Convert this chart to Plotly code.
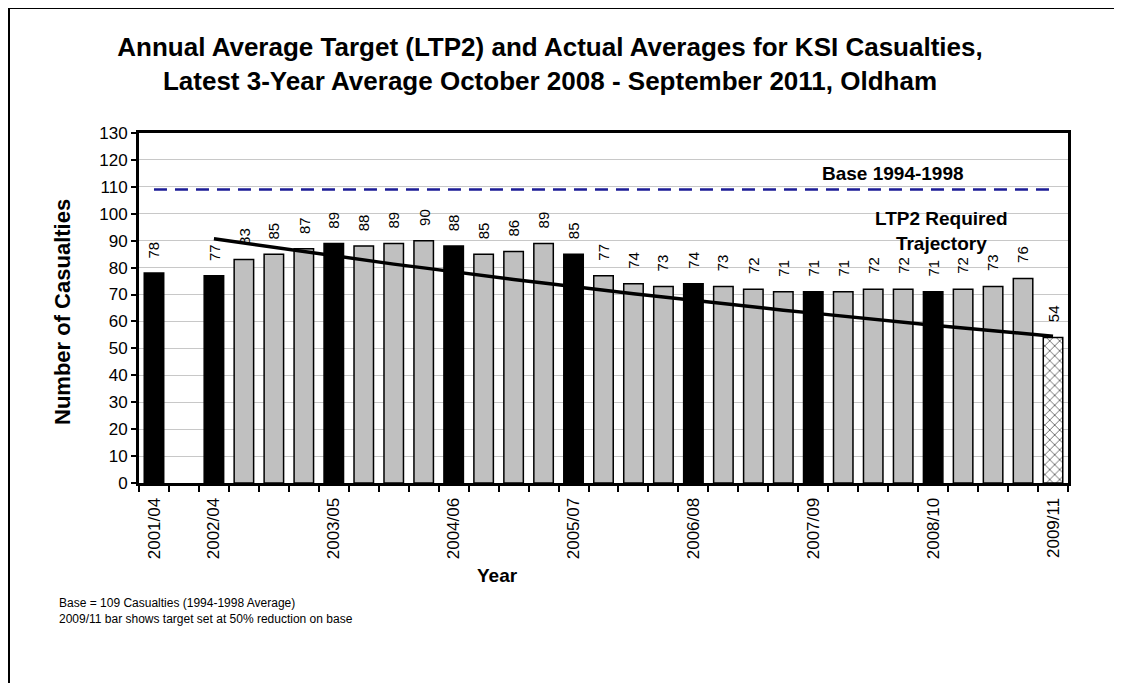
import plotly.graph_objects as go

# periods (blank = unlabelled rolling 3-year window)
periods = ["2001/04", "", "2002/04", "", "", "", "2003/05", "", "", "", "2004/06",
           "", "", "", "2005/07", "", "", "", "2006/08", "", "", "", "2007/09",
           "", "", "", "2008/10", "", "", "", "2009/11"]
actual = [78, None, 77, 83, 85, 87, 89, 88, 89, 90, 88, 85, 86, 89, 85, 77,
          74, 73, 74, 73, 72, 71, 71, 71, 72, 72, 71, 72, 73, 76]
target_2009_11 = 54
base_value = 109
trajectory = [90.7, 89.1, 87.5, 85.9, 84.3, 82.8, 81.3, 79.9, 78.4, 77.0,
              75.6, 74.3, 72.9, 71.6, 70.3, 69.1, 67.8, 66.6, 65.4, 64.2,
              63.1, 61.9, 60.8, 59.7, 58.6, 57.6, 56.5, 55.5, 54.5]

FONT = "Arial, Liberation Sans, sans-serif"
n = len(periods)
xs = list(range(n))

# page body has an 8px margin, so the figure is a bit smaller than the window
W, H = 1114, 683 - 8


def px(x):  # reference pixel -> paper x
    return (x - 139) / 929


def py(y):  # reference pixel -> paper y
    return (483 - y) / 350


bar_x = xs[:len(actual)]
bar_colors = ["black" if periods[i] else "#c0c0c0" for i in bar_x]

fig = go.Figure()

fig.add_trace(go.Bar(
    x=bar_x, y=actual, width=0.65,
    marker=dict(color=bar_colors, line=dict(color="black", width=1.5)),
    showlegend=False,
))

fig.add_trace(go.Bar(
    x=[xs[-1]], y=[target_2009_11], width=0.65,
    marker=dict(color="white", line=dict(color="black", width=1.5),
                pattern=dict(shape="x", fgcolor="black", bgcolor="white",
                             size=7, solidity=0.15, fillmode="replace")),
    showlegend=False,
))

# base 1994-1998 average
fig.add_trace(go.Scatter(
    x=[xs[0], xs[-1]], y=[base_value, base_value], mode="lines",
    line=dict(color="#1c1c96", width=2.5, dash="13px,8px"),
    showlegend=False,
))

# LTP2 required trajectory
fig.add_trace(go.Scatter(
    x=xs[2:], y=trajectory, mode="lines",
    line=dict(color="black", width=3.5),
    showlegend=False,
))

# rotated value labels above the bars
labels = []
for x, v in list(zip(bar_x, actual)) + [(xs[-1], target_2009_11)]:
    if v is None:
        continue
    labels.append(dict(x=x, y=v, xref="x", yref="y", text=str(v), textangle=-90,
                       xanchor="center", yanchor="bottom", yshift=13,
                       showarrow=False,
                       font=dict(family=FONT, size=15, color="black")))

tick_pos = [i for i, p in enumerate(periods) if p]
tick_txt = [p for p in periods if p]

fig.update_layout(
    width=W, height=H,
    paper_bgcolor="white", plot_bgcolor="white",
    margin=dict(l=131, r=W - 1060, t=125, b=H - 475),
    barmode="overlay",
    font=dict(family=FONT, color="black"),
    title=dict(
        text="<b>Annual Average Target (LTP2) and Actual Averages for KSI Casualties,<br>"
             "Latest 3-Year Average October 2008 - September 2011, Oldham</b>",
        x=(550 - 8) / W, xanchor="center", y=1 - (56 - 8) / H, yanchor="middle",
        font=dict(family=FONT, size=26, color="black"),
    ),
    xaxis=dict(
        range=[-0.5, n - 0.5],
        tickmode="array", tickvals=tick_pos, ticktext=tick_txt,
        tickangle=-90, ticks="outside", ticklen=5, tickcolor="rgba(0,0,0,0)",
        tickfont=dict(family=FONT, size=17, color="black"),
        showgrid=False, zeroline=False,
        showline=True, linecolor="black", linewidth=3, mirror=True,
        minor=dict(tickmode="array", tickvals=[i - 0.5 for i in range(n + 1)],
                   ticks="outside", ticklen=6, tickwidth=2, tickcolor="black",
                   showgrid=False),
    ),
    yaxis=dict(
        range=[0, 130], dtick=10, tick0=0,
        ticks="outside", ticklen=5, tickwidth=2, tickcolor="black",
        tickfont=dict(family=FONT, size=17, color="black"),
        showgrid=True, gridcolor="#c8c8c8", gridwidth=1, zeroline=False,
        showline=True, linecolor="black", linewidth=3, mirror=True,
    ),
    annotations=labels + [
        dict(text="<b>Number of Casualties</b>", xref="paper", yref="paper",
             x=px(62), y=py(312), textangle=-90, xanchor="center", yanchor="middle",
             showarrow=False, font=dict(family=FONT, size=22, color="black")),
        dict(text="<b>Year</b>", xref="paper", yref="paper",
             x=px(497), y=py(575), xanchor="center", yanchor="middle",
             showarrow=False, font=dict(family=FONT, size=19, color="black")),
        dict(text="<b>Base 1994-1998</b>", xref="paper", yref="paper",
             x=px(893), y=py(173), xanchor="center", yanchor="middle",
             showarrow=False, font=dict(family=FONT, size=19, color="black")),
        dict(text="<b>LTP2 Required<br>Trajectory</b>", xref="paper", yref="paper",
             x=px(941), y=py(231), xanchor="center", yanchor="middle", align="center",
             showarrow=False, font=dict(family=FONT, size=19, color="black")),
        dict(text="Base = 109 Casualties (1994-1998 Average)<br>"
                  "2009/11 bar shows target set at 50% reduction on base",
             xref="paper", yref="paper", x=px(57), y=py(594),
             xanchor="left", yanchor="top", align="left",
             showarrow=False, font=dict(family=FONT, size=12, color="black")),
    ],
    shapes=[
        # outer chart frame (left edge as close to the page edge as the figure allows)
        dict(type="rect", xref="paper", yref="paper",
             x0=px(9), x1=px(1140), y0=py(700), y1=py(8),
             line=dict(color="black", width=2), fillcolor="rgba(0,0,0,0)",
             layer="below"),
    ],
)

fig.write_html("out.html")
